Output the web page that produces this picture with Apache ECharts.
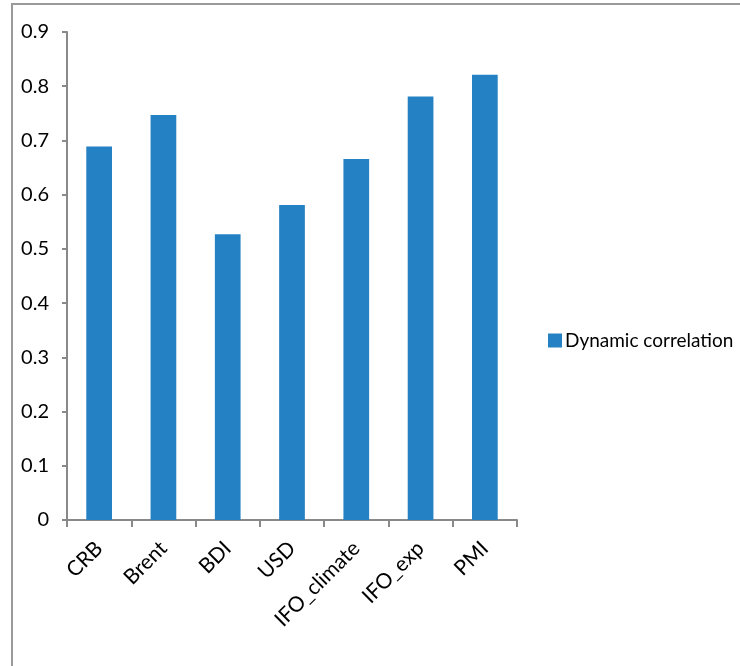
<!DOCTYPE html>
<html>
<head>
<meta charset="utf-8">
<script src="https://cdn.jsdelivr.net/npm/echarts@6/dist/echarts.min.js"></script>
<style>
  html, body { margin: 0; padding: 0; background: #fff; }
  #chart { width: 740px; height: 666px; }
</style>
</head>
<body>
<div id="chart"></div>
<script>
// categories and values
const categories = ['CRB', 'Brent', 'BDI', 'USD', 'IFO_climate', 'IFO_exp', 'PMI'];
const correlation = [0.689, 0.747, 0.527, 0.581, 0.666, 0.781, 0.821];
const seriesName = 'Dynamic correlation';

const fontFamily = 'Lato, "Noto Sans", sans-serif';
const axisGrey = '#898989';

const chart = echarts.init(document.getElementById('chart'));

chart.setOption({
    animation: false,
    backgroundColor: '#fff',
    // outer frame, only top and left edges visible
    graphic: [{
        type: 'rect',
        shape: { x: 12, y: 4, width: 800, height: 800 },
        style: { fill: 'none', stroke: '#9a9a9a', lineWidth: 2 }
    }],
    grid: {
        left: 67,
        top: 32,
        right: 223,
        bottom: 146
    },
    legend: {
        data: [seriesName],
        orient: 'vertical',
        left: 543,
        top: 326,
        itemWidth: 14,
        itemHeight: 14,
        icon: 'rect',
        textStyle: { fontFamily: fontFamily, fontSize: 19, color: '#000', padding: [0, 0, 0, -2] }
    },
    xAxis: {
        type: 'category',
        data: categories,
        axisLine: { lineStyle: { color: axisGrey, width: 2 } },
        axisTick: { show: true, length: 7, lineStyle: { color: axisGrey, width: 2 } },
        axisLabel: {
            rotate: 45,
            margin: 25,
            interval: 0,
            color: '#000',
            fontFamily: fontFamily,
            fontSize: 21
        }
    },
    yAxis: {
        type: 'value',
        min: 0,
        max: 0.9,
        interval: 0.1,
        axisLine: { show: true, lineStyle: { color: axisGrey, width: 2 } },
        axisTick: { show: true, length: 5, lineStyle: { color: axisGrey, width: 2 } },
        splitLine: { show: false },
        axisLabel: {
            margin: 18,
            color: '#000',
            fontFamily: fontFamily,
            fontSize: 20,
            formatter: function (val) {
                return val === 0 ? '0' : val.toFixed(1);
            }
        }
    },
    series: [{
        name: seriesName,
        type: 'bar',
        data: correlation,
        barWidth: '40%',
        itemStyle: { color: '#2481c3' }
    }]
});
</script>
</body>
</html>
